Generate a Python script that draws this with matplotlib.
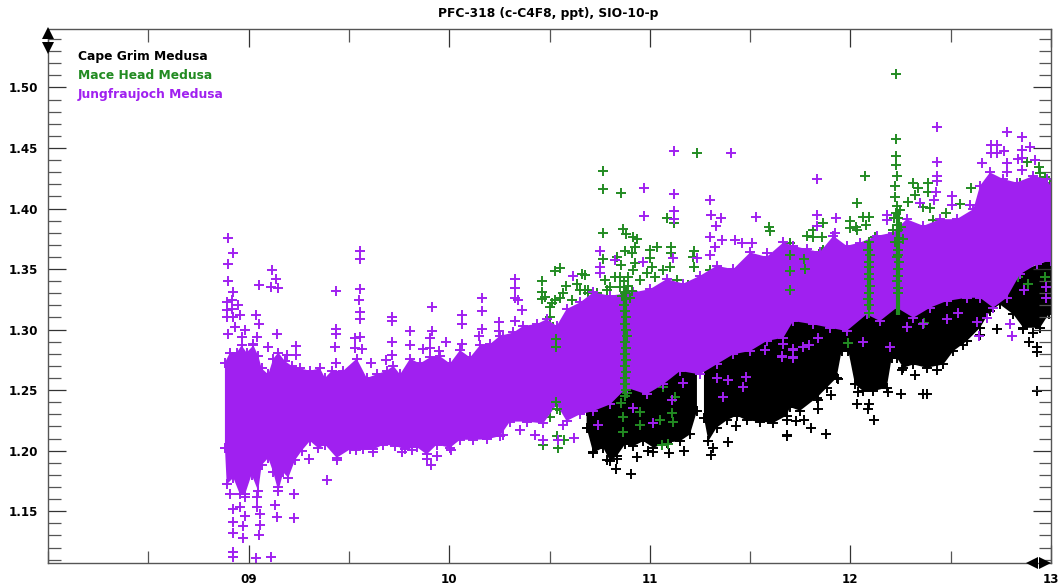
import matplotlib
matplotlib.use("Agg")
import matplotlib.pyplot as plt
from matplotlib.ticker import MultipleLocator

# edges of the solid purple cloud (year, ppt)
jfj_top_x = [8.882, 8.907, 8.941, 8.965, 8.990, 9.024, 9.049, 9.065, 9.098, 9.123, 9.148, 9.181, 9.215, 9.256,
             9.306, 9.356, 9.381, 9.414, 9.472, 9.539, 9.589, 9.638, 9.688, 9.722, 9.755, 9.805, 9.854, 9.904,
             9.954, 10.004, 10.054, 10.104, 10.153, 10.203, 10.253, 10.320, 10.370, 10.436, 10.486, 10.536,
             10.585, 10.652, 10.718, 10.802, 10.918, 11.001, 11.084, 11.167, 11.250, 11.333, 11.416, 11.500,
             11.583, 11.666, 11.715, 11.782, 11.848, 11.915, 11.981, 12.048, 12.131, 12.214, 12.280, 12.364,
             12.447, 12.530, 12.613, 12.646, 12.696, 12.762, 12.829, 12.912, 12.978, 13.0]
jfj_top_y = [1.2748, 1.2830, 1.2830, 1.2890, 1.2830, 1.2890, 1.2800, 1.2700, 1.2650, 1.2780, 1.2830, 1.2760,
             1.2720, 1.2700, 1.2680, 1.2700, 1.2620, 1.2680, 1.2680, 1.2780, 1.2620, 1.2650, 1.2680, 1.2720,
             1.2650, 1.2780, 1.2740, 1.2790, 1.2800, 1.2740, 1.2850, 1.2790, 1.2890, 1.2900, 1.2968, 1.2996,
             1.3051, 1.3065, 1.3106, 1.3050, 1.3189, 1.3244, 1.3327, 1.3300, 1.3327, 1.3354, 1.3437, 1.3400,
             1.3464, 1.3547, 1.3519, 1.3657, 1.3620, 1.3740, 1.3712, 1.3684, 1.3660, 1.3794, 1.3712, 1.3739,
             1.3794, 1.3822, 1.3932, 1.3877, 1.3932, 1.3932, 1.4015, 1.4208, 1.4318, 1.4263, 1.4235, 1.4290,
             1.4263, 1.4200]
jfj_bot_x = [8.882, 8.891, 8.924, 8.957, 8.982, 9.015, 9.048, 9.065, 9.098, 9.123, 9.148, 9.173, 9.198, 9.231,
             9.265, 9.306, 9.348, 9.381, 9.439, 9.505, 9.572, 9.622, 9.672, 9.730, 9.780, 9.838, 9.888, 9.938,
             10.004, 10.054, 10.120, 10.187, 10.253, 10.303, 10.386, 10.469, 10.536, 10.585, 10.652, 10.718,
             10.802, 10.885, 10.984, 11.067, 11.151, 11.250, 11.333, 11.416, 11.500, 11.583, 11.666, 11.715,
             11.815, 11.898, 11.981, 12.081, 12.147, 12.231, 12.314, 12.397, 12.480, 12.579, 12.646, 12.712,
             12.779, 12.845, 12.928, 13.0]
jfj_bot_y = [1.2004, 1.1701, 1.1756, 1.1618, 1.1618, 1.1783, 1.1646, 1.1860, 1.1920, 1.1800, 1.1646, 1.1800,
             1.1756, 1.1900, 1.1980, 1.2060, 1.2000, 1.2030, 1.1921, 1.1990, 1.1990, 1.1990, 1.2030, 1.2020,
             1.1990, 1.2010, 1.1949, 1.2030, 1.2004, 1.2070, 1.2070, 1.2073, 1.2100, 1.2220, 1.2220, 1.2205,
             1.2362, 1.2225, 1.2280, 1.2307, 1.2362, 1.2500, 1.2445, 1.2528, 1.2638, 1.2610, 1.2693, 1.2776,
             1.2803, 1.2886, 1.2913, 1.3051, 1.3023, 1.2995, 1.2968, 1.3106, 1.3051, 1.3161, 1.3078, 1.3161,
             1.3216, 1.3243, 1.3243, 1.3161, 1.3243, 1.3436, 1.3519, 1.3550]

# black cloud, two blocks with a gap in 2011
cgo_a_top_x = [10.685, 10.75, 11.0, 11.2, 11.235]
cgo_a_top_y = [1.235, 1.27, 1.28, 1.285, 1.272]
cgo_a_bot_x = [10.685, 10.718, 10.768, 10.802, 10.835, 10.876, 10.918, 10.968, 11.018, 11.084, 11.151, 11.200, 11.235]
cgo_a_bot_y = [1.2169, 1.1963, 1.2004, 1.1894, 1.1935, 1.2032, 1.2018, 1.2059, 1.2004, 1.2046, 1.2059, 1.2114, 1.2307]
cgo_b_top_x = [11.27, 11.5, 12.0, 12.7, 12.845, 13.0]
cgo_b_top_y = [1.285, 1.30, 1.32, 1.345, 1.35, 1.36]
cgo_b_bot_x = [11.27, 11.292, 11.333, 11.383, 11.433, 11.483, 11.549, 11.616, 11.682, 11.699, 11.749, 11.832, 11.882,
               11.931, 11.956, 11.990, 12.023, 12.064, 12.114, 12.181, 12.206, 12.231, 12.264, 12.314, 12.380,
               12.463, 12.513, 12.580, 12.646, 12.696, 12.745, 12.812, 12.862, 12.945, 12.988, 13.0]
cgo_b_bot_y = [1.2252, 1.2059, 1.2170, 1.2230, 1.2270, 1.2230, 1.2220, 1.2210, 1.2270, 1.2340, 1.2310, 1.2417, 1.2500,
               1.2582, 1.2803, 1.2803, 1.2527, 1.2472, 1.2472, 1.2500, 1.2748, 1.2748, 1.2665, 1.2692, 1.2665,
               1.2692, 1.2803, 1.2885, 1.2995, 1.3133, 1.3188, 1.3106, 1.2995, 1.2995, 1.3106, 1.3150]

# single flasks outside the solid part
jfj_pts_x = [8.899, 8.920, 8.899, 8.899, 8.920, 8.891, 8.916, 8.891, 8.916, 8.949, 8.891, 8.924, 8.957, 8.932,
             8.899, 8.982, 8.965, 9.035, 9.052, 9.052, 9.115, 9.137, 9.112, 9.145, 9.040, 9.024, 9.140, 9.236,
             9.236, 9.098, 9.190, 9.434, 9.434, 9.434, 9.431, 9.436, 9.557, 9.557, 9.557, 9.552, 9.557, 9.557,
             9.557, 9.530, 9.530, 9.564, 9.610, 9.683, 9.713, 9.713, 9.713, 9.713, 9.805, 9.805, 9.913, 9.913,
             9.904, 9.904, 9.984, 9.871, 9.949, 10.065, 10.065, 10.065, 10.165, 10.165, 10.165, 10.150, 10.250,
             10.250, 10.270,
             9.392, 9.303, 9.226, 9.226, 9.140, 9.148, 9.132, 8.920, 8.920, 9.037, 9.112, 8.924, 8.970, 9.052,
             9.057, 8.970, 8.924, 8.982, 9.057, 8.921, 8.957, 8.907, 8.982, 9.040, 9.040, 9.439, 9.534, 9.622,
             9.888, 9.908, 9.937, 10.007, 9.813, 9.763,
             11.121, 11.406, 10.973, 11.121, 11.298, 11.121, 10.973, 11.303, 11.357, 11.528, 11.330, 11.302,
             11.121, 10.328, 10.328, 10.328, 10.345, 10.361, 10.328, 10.752, 10.752, 10.752, 10.827, 10.615,
             10.968, 11.117, 11.234, 11.300, 11.358, 11.325, 11.425, 11.458, 11.508, 11.583,
             10.270, 10.353, 10.428, 10.469, 10.569, 10.622, 10.544, 10.743, 10.918, 11.018, 11.109, 11.167,
             11.333, 11.388, 11.478, 11.466, 11.363, 11.574, 11.659, 11.716, 11.716,
             11.835, 12.432, 12.779, 12.854, 12.895, 12.699, 12.732, 12.699, 12.732, 12.766, 12.854, 12.837,
             12.854, 12.920, 12.779, 12.654, 12.854, 12.779, 12.432, 12.432, 12.432, 12.427, 12.417, 11.835,
             11.927, 11.832, 12.181, 12.181, 12.505, 12.505, 12.596, 11.923, 12.347,
             12.804, 12.641, 12.197, 12.064, 11.715, 11.715, 11.666, 11.657, 11.765, 11.795, 11.840, 12.280,
             12.364, 12.480, 12.538, 12.630, 12.679, 12.796, 12.865, 12.973, 12.973]
jfj_pts_y = [1.3753, 1.3629, 1.3541, 1.340, 1.3312, 1.323, 1.3243, 1.316, 1.317, 1.320, 1.310, 1.310, 1.312, 1.302,
             1.2962, 1.2995, 1.294, 1.312, 1.3045, 1.3367, 1.3491, 1.3414, 1.3354, 1.3345, 1.294, 1.2885, 1.2962,
             1.2866, 1.2794, 1.2858, 1.2789, 1.3318, 1.3009, 1.2962, 1.2858, 1.2726, 1.3651, 1.3582, 1.3332,
             1.3243, 1.3147, 1.3084, 1.2940, 1.2927, 1.2844, 1.2838, 1.2720, 1.2748, 1.3106, 1.3073, 1.2894,
             1.2789, 1.2987, 1.2872, 1.3188, 1.2990, 1.2927, 1.2852, 1.2899, 1.2836, 1.2825, 1.3119, 1.3045,
             1.2880, 1.3263, 1.3153, 1.3001, 1.2946, 1.3064, 1.2987, 1.2940,
             1.1761, 1.1932, 1.1640, 1.1447, 1.1453, 1.1701, 1.1549, 1.1163, 1.1122, 1.1117, 1.1122, 1.1320,
             1.1282, 1.1304, 1.1389, 1.1376, 1.1411, 1.1458, 1.1480, 1.1522, 1.1535, 1.1646, 1.1618, 1.1535,
             1.1618, 1.1921, 1.2004, 1.1990, 1.1935, 1.1885, 1.1954, 1.2009, 1.2004, 1.1990,
             1.4478, 1.4462, 1.4172, 1.4117, 1.4068, 1.3980, 1.3938, 1.3946, 1.3924, 1.3927, 1.3856, 1.3767,
             1.3911, 1.3418, 1.3340, 1.3258, 1.3244, 1.3161, 1.3073, 1.3649, 1.3520, 1.3464, 1.3575, 1.3442,
             1.3561, 1.3588, 1.3588, 1.3616, 1.3740, 1.3685, 1.3740, 1.3712, 1.3712, 1.3630,
             1.2128, 1.2169, 1.2128, 1.2087, 1.2211, 1.2101, 1.2087, 1.2211, 1.2349, 1.2225, 1.2417, 1.2555,
             1.2597, 1.2583, 1.2610, 1.2528, 1.2445, 1.2831, 1.2776, 1.2831, 1.2762,
             1.4243, 1.4670, 1.4629, 1.4588, 1.4505, 1.4524, 1.4524, 1.4456, 1.4456, 1.4478, 1.4483, 1.4409,
             1.4414, 1.4400, 1.4373, 1.4373, 1.4318, 1.4304, 1.4387, 1.4271, 1.4230, 1.4139, 1.4070, 1.3946,
             1.3924, 1.3855, 1.3946, 1.3905, 1.4103, 1.4029, 1.4029, 1.3800, 1.4048,
             1.2946, 1.2946, 1.2858, 1.2899, 1.2836, 1.2770, 1.2885, 1.2781, 1.2858, 1.2872, 1.2927, 1.3023,
             1.3050, 1.3084, 1.3133, 1.3064, 1.3092, 1.3050, 1.3326, 1.3354, 1.3257]

mhd_pts_x = [10.765, 10.765, 10.855, 11.235, 10.765, 10.865, 10.880, 10.918, 10.938, 10.926, 10.876, 10.910,
             11.001, 11.034, 11.106, 11.106, 11.222, 11.217, 11.222, 11.084, 11.121, 11.596, 11.599, 10.835,
             10.765, 10.855, 10.926, 11.001, 11.009, 10.527, 10.552, 10.461, 10.461, 10.461, 10.478, 10.677,
             10.660, 10.582, 10.635, 10.511, 10.552, 10.677, 10.694, 10.777, 10.785, 10.785, 10.793,
             10.544, 10.539, 10.469, 10.572, 10.865, 10.868, 10.951, 11.051, 11.059, 11.089, 11.109, 11.114,
             11.067, 11.126, 10.885, 10.855, 10.951, 10.502, 10.552,
             12.227, 12.227, 12.227, 12.227, 12.231, 12.222, 12.222, 12.073, 12.034, 12.310, 12.339, 12.322,
             12.388, 12.388, 12.600, 12.064, 12.094, 11.998, 11.998, 12.028, 12.078, 11.865, 11.815, 11.782,
             12.289, 12.247, 12.364, 12.397, 12.477, 12.546, 12.879, 12.942, 12.970, 12.995, 12.829, 11.699,
             11.865, 12.239, 12.367, 11.990, 12.837, 12.887, 12.970,
             10.502, 10.527, 10.502, 10.519, 10.569, 10.611, 10.652, 10.694, 10.735, 10.802, 10.827, 10.851,
             10.893, 10.918, 10.951, 10.984, 11.026, 11.067, 11.101, 11.134, 11.192, 11.300,
             11.699, 11.815, 11.857, 11.857, 12.031, 12.123, 12.314, 12.347, 12.413, 12.945, 12.978, 12.845]
mhd_pts_y = [1.4313, 1.4161, 1.4126, 1.4456, 1.3795, 1.3828, 1.3789, 1.3767, 1.3745, 1.3685, 1.3652, 1.3635,
             1.3657, 1.3679, 1.3679, 1.3635, 1.3652, 1.3602, 1.3519, 1.3922, 1.3878, 1.3845, 1.3817, 1.3602,
             1.3580, 1.3533, 1.3547, 1.3588, 1.3519, 1.3486, 1.3511, 1.3401, 1.3313, 1.3249, 1.3271, 1.3451,
             1.3459, 1.3360, 1.3376, 1.3216, 1.3258, 1.3327, 1.3299, 1.3409, 1.3327, 1.3134, 1.3024,
             1.2018, 1.2120, 1.2046, 1.2087, 1.2156, 1.2280, 1.2211, 1.2252, 1.2046, 1.2059, 1.2307, 1.2238,
             1.2528, 1.2445, 1.2473, 1.2390, 1.2321, 1.2280, 1.2335,
             1.5111, 1.4571, 1.4434, 1.4359, 1.4271, 1.4188, 1.4092, 1.4268, 1.4048, 1.4208, 1.4172, 1.4111,
             1.4213, 1.4139, 1.4166, 1.3932, 1.3932, 1.3896, 1.3836, 1.3849, 1.3863, 1.3877, 1.3822, 1.3775,
             1.4056, 1.3987, 1.4015, 1.4001, 1.3960, 1.4037, 1.4387, 1.4345, 1.4263, 1.4208, 1.4194, 1.3643,
             1.3657, 1.3918, 1.3056, 1.2891, 1.3436, 1.3376, 1.3436,
             1.3189, 1.3244, 1.3106, 1.3024, 1.3299, 1.3244, 1.3327, 1.3327, 1.3299, 1.3354, 1.3437, 1.3437,
             1.3437, 1.3492, 1.3409, 1.3464, 1.3437, 1.3492, 1.3519, 1.3409, 1.3368, 1.3492,
             1.3712, 1.3767, 1.3643, 1.3767, 1.3822, 1.3767, 1.3822, 1.3794, 1.3905, 1.4290, 1.4208, 1.4208]

# polluted events, green runs straight through the purple
event_x = [10.876, 10.880, 10.873, 10.878, 10.882, 10.875, 10.879, 10.884, 10.877, 10.881, 10.874, 10.880, 10.876,
           10.883, 10.878, 10.874, 10.880, 10.877, 10.85, 10.87, 10.89, 10.91, 10.86, 10.90,
           12.094, 12.090, 12.096, 12.092, 12.095, 12.091, 12.094, 12.097, 12.092, 12.089, 12.095, 12.093,
           12.234, 12.228, 12.238, 12.232, 12.236, 12.240, 12.234, 12.238, 12.235, 12.240, 12.236, 12.238, 12.233,
           12.237, 12.239, 12.21, 12.25, 12.22, 12.26, 12.23, 12.215,
           10.530, 10.534, 10.532, 10.536, 11.699, 11.701, 11.698, 11.770, 11.772]
event_y = [1.330, 1.325, 1.320, 1.315, 1.310, 1.305, 1.300, 1.295, 1.290, 1.285, 1.280, 1.275, 1.270,
           1.265, 1.260, 1.255, 1.250, 1.245, 1.335, 1.340, 1.336, 1.332, 1.328, 1.326,
           1.372, 1.366, 1.362, 1.356, 1.352, 1.346, 1.342, 1.336, 1.330, 1.325, 1.320, 1.314,
           1.402, 1.396, 1.392, 1.386, 1.382, 1.376, 1.372, 1.366, 1.362, 1.356, 1.350, 1.344, 1.340,
           1.334, 1.330, 1.382, 1.385, 1.372, 1.375, 1.360, 1.392,
           1.292, 1.286, 1.240, 1.234, 1.362, 1.348, 1.333, 1.358, 1.350]
streak_x = [10.878, 12.093, 12.235]
streak_low = [1.248, 1.316, 1.312]
streak_high = [1.335, 1.372, 1.400]

cgo_pts_x = [10.905, 10.830, 10.938, 10.993, 11.014, 11.096, 11.171, 11.317, 11.303, 11.391, 11.430, 11.686,
             11.729, 11.591, 10.715, 10.835, 10.785,
             11.686, 11.877, 11.804, 11.729, 11.770, 11.686, 12.119, 12.034, 12.094, 12.089, 11.903, 11.840,
             11.840, 12.251, 12.364, 12.380, 12.929, 12.929, 12.929, 12.890, 12.729, 12.862, 12.911, 12.563,
             12.430, 12.322, 12.255, 12.189, 12.039, 11.940, 12.646]
cgo_pts_y = [1.1806, 1.1847, 1.1944, 1.1996, 1.1990, 1.1982, 1.1996, 1.2018, 1.1963, 1.2073, 1.2202, 1.2128,
             1.2244, 1.2258, 1.1990, 1.1935, 1.1921,
             1.2122, 1.2141, 1.2191, 1.2246, 1.2252, 1.2252, 1.2257, 1.2389, 1.2389, 1.2348, 1.2458, 1.2348,
             1.2417, 1.2466, 1.2464, 1.2464, 1.2494, 1.2858, 1.2816, 1.2899, 1.3003, 1.3003, 1.2968, 1.2871,
             1.2665, 1.2624, 1.2665, 1.2486, 1.2486, 1.2596, 1.2954]

year_ticks = [9, 10, 11, 12, 13]
year_labels = ['09', '10', '11', '12', '13']
legend_names = ['Cape Grim Medusa', 'Mace Head Medusa', 'Jungfraujoch Medusa']

BLACK = 'black'
GREEN = '#228B22'
PURPLE = '#A020F0'
EDGE = 0.002  # edge readings include the arm of the cross


def crosses(ax, x, y, color, z):
    ax.plot(x, y, '+', color=color, ms=7, mew=1.4, zorder=z)


def cloud(ax, top_x, top_y, bot_x, bot_y, color, z):
    # solid body, with crosses on the rim so it stays rough
    up = [v - EDGE for v in top_y]
    lo = [v + EDGE for v in bot_y]
    ax.fill(top_x + bot_x[::-1], up + lo[::-1], color=color, lw=0, zorder=z)
    crosses(ax, top_x, up, color, z)
    crosses(ax, bot_x, lo, color, z)


fig = plt.figure(figsize=(10.59, 5.87), dpi=100)
ax = fig.add_axes([48 / 1059, 1 - 563 / 587, 1003 / 1059, 534 / 587])

cloud(ax, cgo_a_top_x, cgo_a_top_y, cgo_a_bot_x, cgo_a_bot_y, BLACK, 1)
cloud(ax, cgo_b_top_x, cgo_b_top_y, cgo_b_bot_x, cgo_b_bot_y, BLACK, 1)
crosses(ax, cgo_pts_x, cgo_pts_y, BLACK, 1)

crosses(ax, mhd_pts_x, mhd_pts_y, GREEN, 2)

cloud(ax, jfj_top_x, jfj_top_y, jfj_bot_x, jfj_bot_y, PURPLE, 3)
crosses(ax, jfj_pts_x, jfj_pts_y, PURPLE, 3)

# green events show through
ax.vlines(streak_x, streak_low, streak_high, color=GREEN, lw=3, zorder=4)
crosses(ax, event_x, event_y, GREEN, 4)

ax.set_xlim(8, 13)
ax.set_ylim(1.1072, 1.5483)

ax.set_xticks(year_ticks)
ax.set_xticklabels(year_labels)
ax.xaxis.set_minor_locator(MultipleLocator(0.5))
ax.yaxis.set_major_locator(MultipleLocator(0.05))
ax.yaxis.set_minor_locator(MultipleLocator(0.01))
ax.yaxis.set_major_formatter(plt.FormatStrFormatter('%.2f'))

ax.tick_params(which='major', direction='in', length=13, width=0.9, color='#333333',
               top=True, right=True, pad=7, labelsize=8.6)
ax.tick_params(which='minor', direction='in', length=9, width=0.9, color='#555555', top=True, right=True)
for lab in ax.get_xticklabels() + ax.get_yticklabels():
    lab.set_fontweight('bold')
for s in ax.spines.values():
    s.set_color('#555555')
    s.set_linewidth(1.0)
    s.set_zorder(6)

# little scroll arrows on the corners
for xa, ya, m in [(0, 0.9925, '^'), (0, 0.9645, 'v'), (0.9815, 0, '<'), (0.9945, 0, '>')]:
    ax.plot(xa, ya, m, color='black', ms=8, mew=0, transform=ax.transAxes, clip_on=False, zorder=7)

for name, c, py in zip(legend_names, [BLACK, GREEN, PURPLE], [56.5, 75.5, 94.5]):
    fig.text(78 / 1059, 1 - py / 587, name, color=c, fontsize=8.8, fontweight='bold', va='center', ha='left')

fig.text(548 / 1059, 1 - 13 / 587, 'PFC-318 (c-C4F8, ppt), SIO-10-p', fontsize=8.8, fontweight='bold',
         ha='center', va='center')

fig.savefig('out.png', dpi=100)
